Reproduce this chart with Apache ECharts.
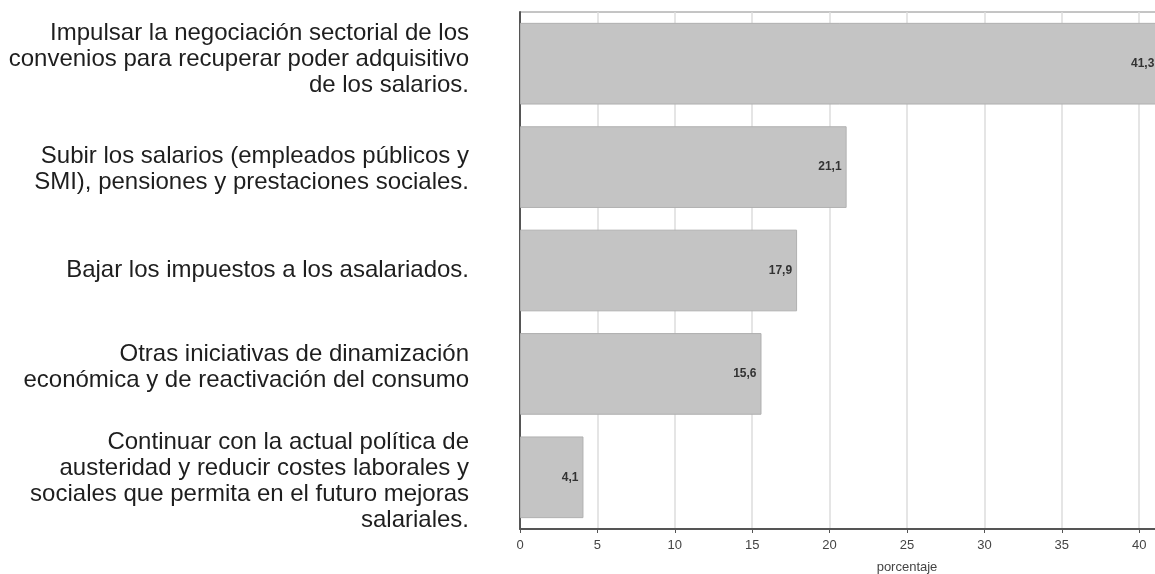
<!DOCTYPE html>
<html>
<head>
<meta charset="utf-8">
<script src="https://cdn.jsdelivr.net/npm/echarts@6/dist/echarts.min.js"></script>
<style>
html,body{margin:0;padding:0;background:#fff;overflow:hidden;width:1155px;height:574px;}
#c{width:1400px;height:574px;}
</style>
</head>
<body>
<div id="c"></div>
<script>
var categories = [
  "Impulsar la negociación sectorial de los\nconvenios para recuperar poder adquisitivo\nde los salarios.",
  "Subir los salarios (empleados públicos y\nSMI), pensiones y prestaciones sociales.",
  "Bajar los impuestos a los asalariados.",
  "Otras iniciativas de dinamización\neconómica y de reactivación del consumo",
  "Continuar con la actual política de\nausteridad y reducir costes laborales y\nsociales que permita en el futuro mejoras\nsalariales."
];
var values = [41.3, 21.1, 17.9, 15.6, 4.1];
var xTicks = [0, 5, 10, 15, 20, 25, 30, 35, 40, 45, 50];
var xAxisName = "porcentaje";

// small vertical nudges of the category labels (layout only, px; negative = up)
var labelNudge = [-4, 2, 0, -7, 4];

var richStyles = {};
labelNudge.forEach(function (s, i) {
  richStyles['g' + i] = {lineHeight: Math.max(1, 2 * Math.abs(s)), fontSize: 1};
});

var chart = echarts.init(document.getElementById('c'), null, {renderer: 'canvas', width: 1400, height: 574});
chart.setOption({
  animation: false,
  backgroundColor: '#ffffff',
  grid: {
    left: 520, top: 12, width: 774, height: 517,
    containLabel: false, outerBoundsMode: 'none',
    show: true, borderColor: '#8a8a8a', borderWidth: 1, backgroundColor: 'transparent'
  },
  xAxis: {
    type: 'value',
    min: xTicks[0], max: xTicks[xTicks.length - 1], interval: 5,
    name: xAxisName, nameLocation: 'middle', nameGap: 32,
    nameTextStyle: {fontFamily: 'Liberation Sans, Arial', fontSize: 13, color: '#444'},
    axisLine: {show: true, lineStyle: {color: '#555', width: 2}},
    axisTick: {show: true, length: 4, lineStyle: {color: '#555'}},
    axisLabel: {fontFamily: 'Liberation Sans, Arial', fontSize: 13, color: '#444', margin: 10},
    splitLine: {show: true, lineStyle: {color: '#dcdcdc', width: 1.5}}
  },
  yAxis: {
    type: 'category',
    data: categories,
    inverse: true,
    axisLine: {show: true, lineStyle: {color: '#555', width: 2}},
    axisTick: {show: false},
    axisLabel: {
      fontFamily: 'Liberation Sans, Arial', fontSize: 24, color: '#1e1e1e',
      lineHeight: 26, margin: 51, align: 'right',
      rich: richStyles,
      formatter: function (value, idx) {
        var s = labelNudge[idx] || 0;
        if (s > 0) return '{g' + idx + '|\u00a0}\n' + value;
        if (s < 0) return value + '\n{g' + idx + '|\u00a0}';
        return value;
      }
    },
    splitLine: {show: false}
  },
  series: [{
    type: 'bar',
    data: values,
    barCategoryGap: '21%',
    itemStyle: {color: '#c4c4c4', borderColor: '#b0b0b0', borderWidth: 1},
    label: {
      show: true, position: 'insideRight', distance: 5,
      fontFamily: 'Liberation Sans, Arial', fontSize: 12, fontWeight: 'bold', color: '#333',
      formatter: function (p) { return p.value.toFixed(1).replace('.', ','); }
    }
  }]
});
</script>
</body>
</html>
